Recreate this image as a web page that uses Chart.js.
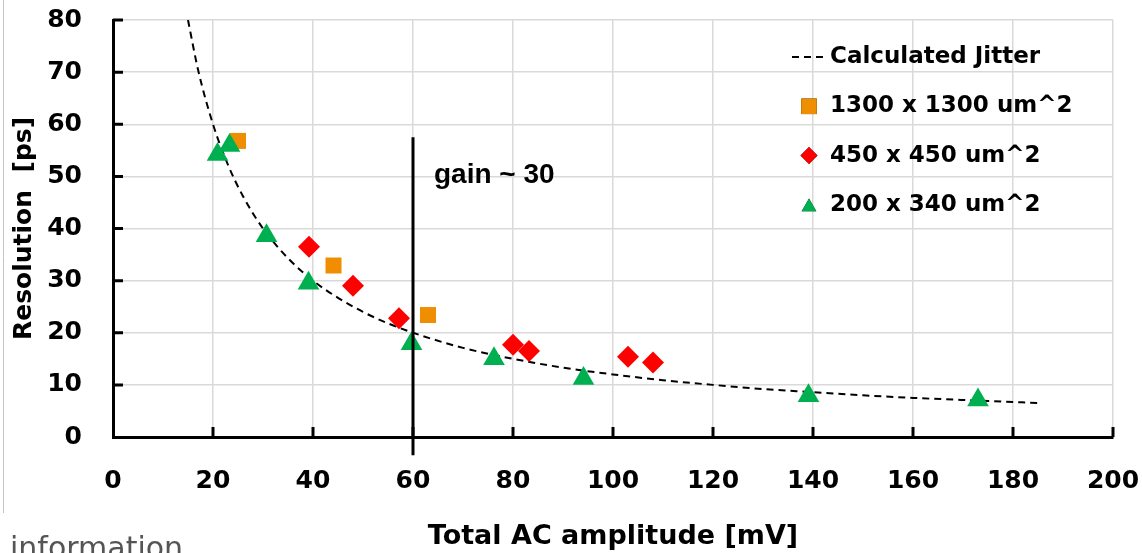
<!DOCTYPE html>
<html>
<head>
<meta charset="utf-8">
<script src="https://cdn.jsdelivr.net/npm/chart.js@4/dist/chart.umd.min.js"></script>
<style>
html, body { margin: 0; padding: 0; background: #fff; }
#wrap { position: relative; width: 1142px; height: 553px; }
</style>
</head>
<body>
<div id="wrap"><canvas id="res"></canvas></div>
<script>
// amplitude [mV] vs. resolution [ps]
var jitterX = [15, 17, 20, 23, 26, 30, 35, 40, 45, 50, 55, 60, 70, 80, 90, 100, 110, 120, 130, 140, 150, 160, 170, 185.5];
var jitterY = [80, 70.5, 60, 52.2, 46.2, 40, 34.3, 30, 26.7, 24, 21.8, 20, 17.1, 15, 13.3, 12, 10.9, 10, 9.2, 8.6, 8, 7.5, 7.1, 6.5];

var bigX = [25, 44.1, 63];
var bigY = [56.8, 32.9, 23.4];

var midX = [39.2, 48, 57.2, 80, 83.2, 103, 108];
var midY = [36.5, 29, 22.8, 17.7, 16.5, 15.4, 14.3];

var smallX = [20.9, 23.3, 30.7, 39.1, 59.7, 76.2, 94.1, 139.1, 173];
var smallY = [54.2, 55.9, 38.6, 29.5, 17.9, 15.0, 11.2, 7.9, 7.1];

var gainX = 60;
var gainY = [-3.5, 57.5];
var gainText = 'gain ~ 30';
var gainLabelAt = [64.2, 50.3];

var xTicks = [0, 20, 40, 60, 80, 100, 120, 140, 160, 180, 200];
var yTicks = [0, 10, 20, 30, 40, 50, 60, 70, 80];

var names = ['Calculated Jitter', '1300 x 1300 um^2', '450 x 450 um^2', '200 x 340 um^2'];

var ORANGE = '#EE8E00', RED = '#FF0000', GREEN = '#00B050';
var FONT = '"DejaVu Sans", sans-serif';

function pts(xs, ys) {
    return xs.map(function (x, i) { return { x: x, y: ys[i] }; });
}

// inward tick marks, legend box, annotation and page bits
var extras = {
    id: 'extras',
    afterDatasetsDraw: function (chart) {
        var ctx = chart.ctx, a = chart.chartArea;
        var xs = chart.scales.x, ys = chart.scales.y;
        ctx.save();
        ctx.strokeStyle = '#000';
        ctx.lineWidth = 3;
        ctx.beginPath();
        xTicks.forEach(function (v) {
            if (v === 0) return;
            var px = xs.getPixelForValue(v);
            ctx.moveTo(px, a.bottom); ctx.lineTo(px, a.bottom - 10);
        });
        yTicks.forEach(function (v) {
            if (v === 0) return;
            var py = ys.getPixelForValue(v);
            ctx.moveTo(a.left, py); ctx.lineTo(a.left + 10, py);
        });
        ctx.stroke();

        // annotation next to the gain line
        ctx.fillStyle = '#000';
        ctx.font = 'bold 28px "Liberation Sans", Arial, sans-serif';
        ctx.textBaseline = 'middle';
        ctx.textAlign = 'left';
        ctx.fillText(gainText, xs.getPixelForValue(gainLabelAt[0]), ys.getPixelForValue(gainLabelAt[1]));

        // legend
        var lx = a.right - 283, ly = a.top + 37, step = 49.3;
        ctx.font = 'bold 23px ' + FONT;
        names.forEach(function (n, i) {
            var y = ly + i * step;
            ctx.fillStyle = '#000';
            ctx.fillText(n, lx, y);
            var cx = lx - 21;
            if (i === 0) {
                ctx.save();
                ctx.lineWidth = 2;
                ctx.setLineDash([7, 5]);
                ctx.beginPath();
                ctx.moveTo(lx - 38, y); ctx.lineTo(lx - 2, y);
                ctx.stroke();
                ctx.restore();
            } else {
                var ds = chart.data.datasets[i];
                Chart.helpers.drawPoint(ctx, {
                    pointStyle: ds.pointStyle,
                    radius: i === 1 ? 11 : 8.5,
                    borderWidth: 0
                }, cx, y + (i === 3 ? 2 : 0));
                ctx.fillStyle = ds.backgroundColor;
                ctx.fill();
            }
        });

        // page edge and footer text
        ctx.strokeStyle = '#c4c4c4';
        ctx.lineWidth = 1;
        ctx.beginPath();
        ctx.moveTo(3.5, 0); ctx.lineTo(3.5, 513);
        ctx.stroke();
        ctx.fillStyle = '#555';
        ctx.font = '30px ' + FONT;
        ctx.textBaseline = 'alphabetic';
        ctx.fillText('e information', -18, 558);
        ctx.restore();
    }
};

new Chart(document.getElementById('res'), {
    type: 'scatter',
    data: {
        datasets: [{
            label: names[0],
            data: pts(jitterX, jitterY),
            showLine: true,
            borderColor: '#000',
            borderWidth: 2,
            borderDash: [7, 5],
            pointRadius: 0,
            cubicInterpolationMode: 'monotone',
            order: 5
        }, {
            label: names[1],
            data: pts(bigX, bigY),
            pointStyle: 'rect',
            pointRadius: 11.3,
            backgroundColor: ORANGE,
            borderWidth: 0,
            order: 3
        }, {
            label: names[2],
            data: pts(midX, midY),
            pointStyle: 'rectRot',
            pointRadius: 11,
            backgroundColor: RED,
            borderWidth: 0,
            order: 2
        }, {
            label: names[3],
            data: pts(smallX, smallY),
            pointStyle: 'triangle',
            pointRadius: 12.5,
            backgroundColor: GREEN,
            borderWidth: 0,
            order: 1
        }, {
            label: 'gain',
            data: [{ x: gainX, y: gainY[0] }, { x: gainX, y: gainY[1] }],
            showLine: true,
            borderColor: '#000',
            borderWidth: 3,
            pointRadius: 0,
            clip: false,
            order: 0
        }]
    },
    options: {
        responsive: true,
        maintainAspectRatio: false,
        animation: false,
        layout: { padding: { left: 0, top: 20, right: 29, bottom: 0 } },
        plugins: {
            legend: { display: false },
            tooltip: { enabled: false }
        },
        scales: {
            x: {
                type: 'linear',
                min: 0, max: 200,
                afterFit: function (s) {
                    s.height = 116;
                    s.paddingLeft = 0;
                    s.paddingRight = 0;
                },
                afterBuildTicks: function (s) { s.ticks = xTicks.map(function (v) { return { value: v }; }); },
                ticks: { color: '#000', padding: 29, font: { family: FONT, size: 25, weight: 'bold' } },
                grid: { color: '#d9d9d9', lineWidth: 1.5, drawTicks: false },
                border: { display: true, color: '#000', width: 3 },
                title: {
                    display: true,
                    text: 'Total AC amplitude [mV]',
                    color: '#000',
                    font: { family: FONT, size: 27, weight: 'bold' },
                    padding: { top: 0, bottom: 0 }
                }
            },
            y: {
                type: 'linear',
                min: 0, max: 80,
                afterFit: function (s) {
                    s.width = 113;
                    s.paddingTop = 0;
                    s.paddingBottom = 0;
                },
                afterBuildTicks: function (s) { s.ticks = yTicks.map(function (v) { return { value: v }; }); },
                ticks: { color: '#000', padding: 31, font: { family: FONT, size: 25, weight: 'bold' } },
                grid: { color: '#d9d9d9', lineWidth: 1.5, drawTicks: false },
                border: { display: true, color: '#000', width: 3 },
                title: {
                    display: true,
                    text: 'Resolution  [ps]',
                    color: '#000',
                    font: { family: FONT, size: 25, weight: 'bold' },
                    padding: { top: 9, bottom: 0 }
                }
            }
        }
    },
    plugins: [extras]
});
</script>
</body>
</html>
